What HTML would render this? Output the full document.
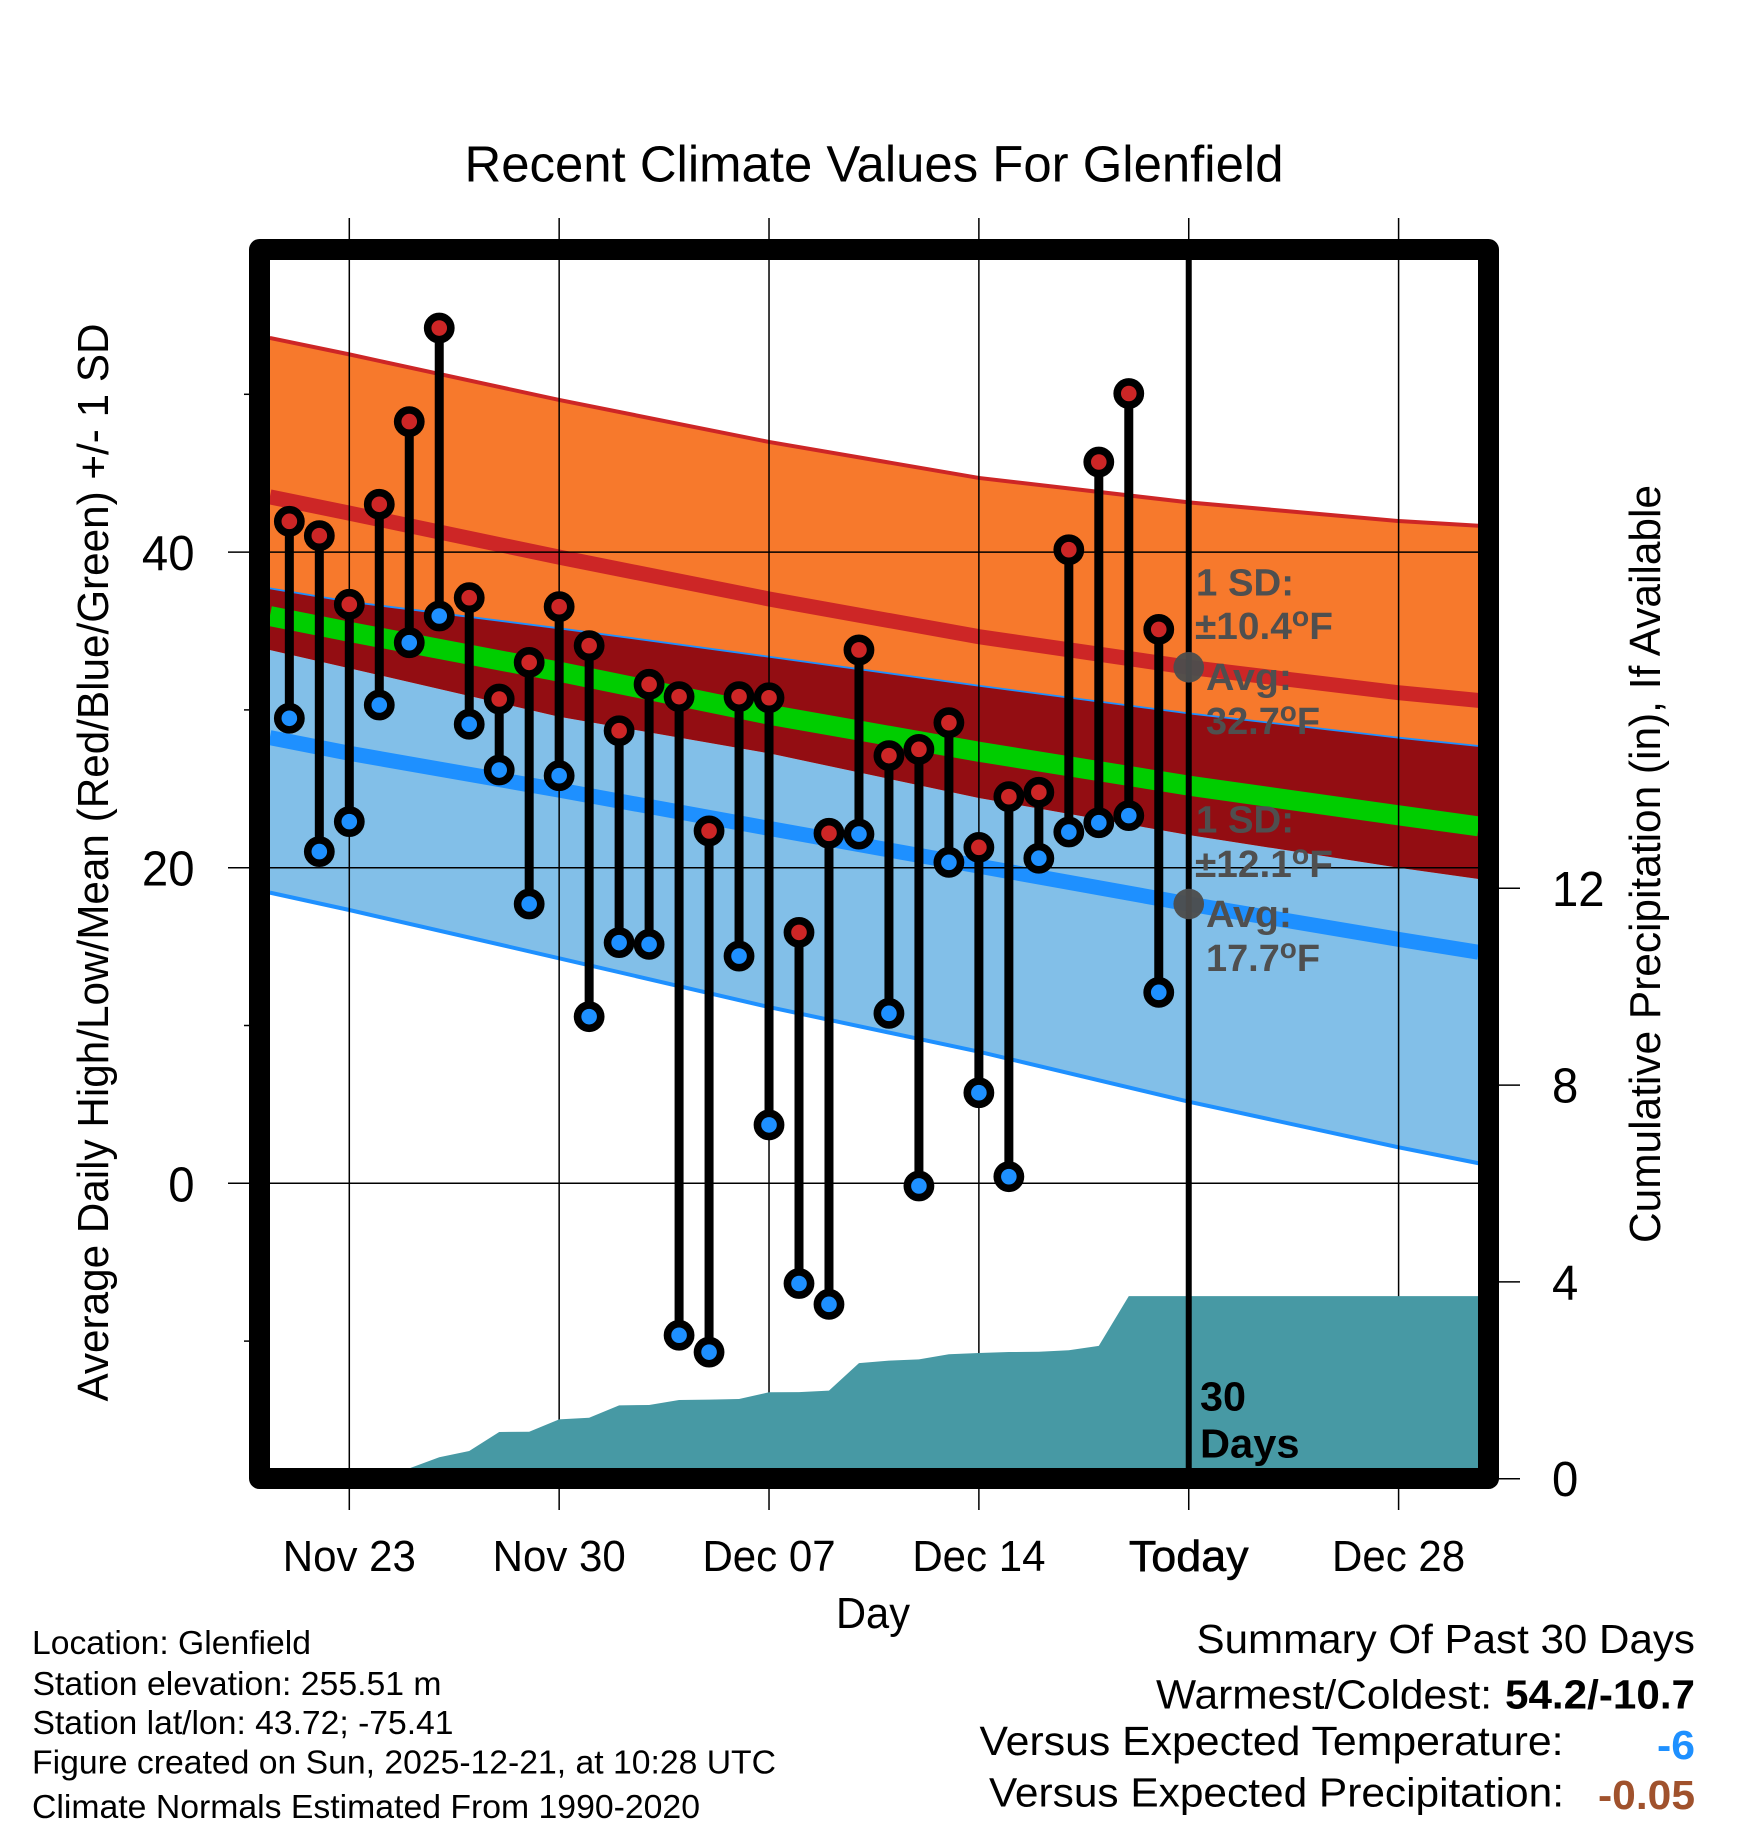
<!DOCTYPE html>
<html lang="en">
<head>
<meta charset="utf-8">
<title>Recent Climate Values For Glenfield</title>
<style>
html,body{margin:0;padding:0;background:#fff;width:1748px;height:1828px;overflow:hidden}
svg{display:block}
text{font-family:"Liberation Sans",sans-serif;fill:#000}
.note{font-weight:bold;font-size:38px;fill:#4f4f4f}
.info{font-size:33px}
.sum{font-size:41px}
</style>
</head>
<body>
<svg id="chart" xmlns="http://www.w3.org/2000/svg" width="1748" height="1828" viewBox="0 0 1748 1828">
  <g id="bands"></g>
  <g id="grid"></g>
  <g id="precip"></g>
  <g id="marks"></g>
  <g id="today"></g>

  <g>
    <text class="note" x="1196" y="595.7" textLength="98" lengthAdjust="spacingAndGlyphs">1 SD:</text>
    <text class="note" x="1195" y="639" textLength="138" lengthAdjust="spacingAndGlyphs">±10.4<tspan dy="-13" font-size="28">o</tspan><tspan dy="13">F</tspan></text>
    <text class="note" x="1206" y="690" textLength="86" lengthAdjust="spacingAndGlyphs">Avg:</text>
    <text class="note" x="1206" y="734" textLength="114" lengthAdjust="spacingAndGlyphs">32.7<tspan dy="-13" font-size="28">o</tspan><tspan dy="13">F</tspan></text>
  </g>
  <g>
    <text class="note" x="1196" y="832.7" textLength="98" lengthAdjust="spacingAndGlyphs">1 SD:</text>
    <text class="note" x="1195" y="877" textLength="138" lengthAdjust="spacingAndGlyphs">±12.1<tspan dy="-13" font-size="28">o</tspan><tspan dy="13">F</tspan></text>
    <text class="note" x="1206" y="927" textLength="86" lengthAdjust="spacingAndGlyphs">Avg:</text>
    <text class="note" x="1206" y="971" textLength="114" lengthAdjust="spacingAndGlyphs">17.7<tspan dy="-13" font-size="28">o</tspan><tspan dy="13">F</tspan></text>
  </g>
  <text x="1200" y="1410.5" font-size="41" font-weight="bold" textLength="46" lengthAdjust="spacingAndGlyphs">30</text>
  <text x="1200" y="1457.7" font-size="41" font-weight="bold" textLength="99.5" lengthAdjust="spacingAndGlyphs">Days</text>

  <rect x="259.5" y="249.5" width="1229" height="1229" fill="none" stroke="#000" stroke-width="21" stroke-linejoin="round"></rect>
  <g id="ticks"></g>

  <text x="464.5" y="181.7" font-size="51" textLength="819" lengthAdjust="spacingAndGlyphs">Recent Climate Values For Glenfield</text>
  <text transform="translate(108,1401.5) rotate(-90)" font-size="44" textLength="1078" lengthAdjust="spacingAndGlyphs">Average Daily High/Low/Mean (Red/Blue/Green) +/- 1 SD</text>
  <text transform="translate(1660,1243) rotate(-90)" font-size="44" textLength="758" lengthAdjust="spacingAndGlyphs">Cumulative Precipitation (in), If Available</text>
  <text x="836" y="1628" font-size="44" textLength="74" lengthAdjust="spacingAndGlyphs">Day</text>

  <g>
    <text class="info" x="32" y="1654" textLength="279" lengthAdjust="spacingAndGlyphs">Location: Glenfield</text>
    <text class="info" x="32.5" y="1695" textLength="409" lengthAdjust="spacingAndGlyphs">Station elevation: 255.51 m</text>
    <text class="info" x="32.5" y="1734" textLength="421" lengthAdjust="spacingAndGlyphs">Station lat/lon: 43.72; -75.41</text>
    <text class="info" x="32" y="1773.3" textLength="744" lengthAdjust="spacingAndGlyphs">Figure created on Sun, 2025-12-21, at 10:28 UTC</text>
    <text class="info" x="32" y="1818" textLength="668" lengthAdjust="spacingAndGlyphs">Climate Normals Estimated From 1990-2020</text>
  </g>

  <g>
    <text class="sum" x="1196.5" y="1653" textLength="498.5" lengthAdjust="spacingAndGlyphs">Summary Of Past 30 Days</text>
    <text class="sum" x="1156" y="1708.7" textLength="336" lengthAdjust="spacingAndGlyphs">Warmest/Coldest:</text>
    <text class="sum" x="1505" y="1708.7" font-weight="bold" textLength="190" lengthAdjust="spacingAndGlyphs">54.2/-10.7</text>
    <text class="sum" x="979.5" y="1754.8" textLength="584" lengthAdjust="spacingAndGlyphs">Versus Expected Temperature:</text>
    <text class="sum" x="1657" y="1759" font-weight="bold" textLength="38" lengthAdjust="spacingAndGlyphs" style="fill:#1e90ff">-6</text>
    <text class="sum" x="989" y="1806.5" textLength="575" lengthAdjust="spacingAndGlyphs">Versus Expected Precipitation:</text>
    <text class="sum" x="1598" y="1809" font-weight="bold" textLength="97" lengthAdjust="spacingAndGlyphs" style="fill:#a0522d">-0.05</text>
  </g>
</svg>

<script>
// ---- data ----
const dayOffsets = [-2,-1,0,1,2,3,4,5,6,7,8,9,10,11,12,13,14,15,16,17,18,19,20,21,22,23,24,25,26,27];
const dailyHigh = [41.95,41.04,36.69,43.03,48.27,54.2,37.11,30.69,33.01,36.54,34.07,28.68,31.62,30.84,22.33,30.84,30.77,15.9,22.18,33.8,27.1,27.5,29.19,21.29,24.5,24.78,40.15,45.71,50.05,35.1];
const dailyLow = [29.47,21.02,22.92,30.31,34.26,35.95,29.09,26.19,17.7,25.83,10.56,15.25,15.14,-9.63,-10.7,14.4,3.7,-6.35,-7.67,22.13,10.77,-0.17,20.34,5.74,0.42,20.6,22.26,22.85,23.3,12.1];
const cumulativePrecip = [0,0,0,0,0.21,0.435,0.563,0.95,0.955,1.207,1.24,1.49,1.498,1.6,1.606,1.62,1.756,1.76,1.79,2.35,2.4,2.425,2.53,2.555,2.575,2.58,2.61,2.7,3.71,3.71];

const normalDays = [-2.65,0,7,14,21,28,35,37.67];
const highPlusSd = [53.57,52.53,49.64,46.98,44.7,43.15,41.97,41.67];
const highMean = [43.5,42.47,39.68,37.03,34.64,32.7,31.09,30.6];
const highMinusSd = [33.8,32.64,29.57,27.25,24.42,22.07,20,19.28];
const lowPlusSd = [37.7,36.86,35.17,33.37,31.53,29.78,28.24,27.71];
const lowMean = [28.24,27.25,24.92,22.49,20.1,17.7,15.46,14.64];
const lowMinusSd = [18.42,17.32,14.26,11.17,8.34,5.17,2.28,1.27];
const overallMean = [35.95,34.95,32.42,29.7,27.35,25.2,23.32,22.62];

const todayOffset = 28;
const todayHighAvg = 32.7;
const todayLowAvg = 17.7;

const xTickDays = [0,7,14,21,28,35];
const xTickLabels = ['Nov 23','Nov 30','Dec 07','Dec 14','Today','Dec 28'];
const tempMajorTicks = [40,20,0];
const tempMajorLabels = ['40','20','0'];
const tempMinorTicks = [50,30,10,-10];
const precipTicks = [0,4,8,12];
const precipLabels = ['0','4','8','12'];

// ---- axis functions ----
function xScale(d){ return 349.3 + 29.98 * d; }
function tempScale(v){ return 1183.3 - 15.78 * v; }
function precipScale(v){ return 1478.7 - 49.2 * v; }

const NS = 'http://www.w3.org/2000/svg';
function make(tag, parent, attrs){
  const el = document.createElementNS(NS, tag);
  for (const k in attrs) el.setAttribute(k, attrs[k]);
  parent.appendChild(el);
  return el;
}
function seriesPoints(xs, ys){
  return xs.map(function(d, i){ return xScale(d).toFixed(2) + ',' + tempScale(ys[i]).toFixed(2); });
}

// ---- climate bands ----
const bands = document.getElementById('bands');
function drawBand(upper, lower, color, name){
  const pts = seriesPoints(normalDays, upper).concat(seriesPoints(normalDays, lower).reverse());
  const el = make('polygon', bands, {points: pts.join(' '), fill: color});
  
  
}
function drawLine(vals, color, width, name){
  const el = make('polyline', bands, {points: seriesPoints(normalDays, vals).join(' '), fill: 'none', stroke: color, 'stroke-width': width});
  
  
}
drawBand(highPlusSd, highMinusSd, '#f7792c', 'high-sd-band');
drawBand(highMinusSd, lowMinusSd, '#82bfe8', 'low-sd-band');
drawBand(lowPlusSd, highMinusSd, '#930d12', 'overlap-band');
drawLine(highPlusSd, '#cd2626', 4, 'high-plus-sd-line');
drawLine(lowPlusSd, '#1e90ff', 1.8, 'low-plus-sd-line');
drawLine(lowMinusSd, '#1e90ff', 4, 'low-minus-sd-line');
drawLine(highMean, '#cd2626', 15, 'high-mean-line');
drawLine(lowMean, '#1e90ff', 15, 'low-mean-line');
drawLine(overallMean, '#00cd00', 20, 'overall-mean-line');

// ---- grid lines ----
const grid = document.getElementById('grid');
xTickDays.forEach(function(d){
  const el = make('line', grid, {x1: xScale(d), x2: xScale(d), y1: 218, y2: 1510, stroke: '#000', 'stroke-width': 1.5});
  
  
});
tempMajorTicks.forEach(function(v){
  const el = make('line', grid, {x1: 228, x2: 1478, y1: tempScale(v), y2: tempScale(v), stroke: '#000', 'stroke-width': 1.5});
  
  
});

// ---- precipitation ----
const precipGroup = document.getElementById('precip');
const precipPts = dayOffsets.map(function(d, i){ return xScale(d).toFixed(2) + ',' + precipScale(cumulativePrecip[i]).toFixed(2); });
const lastPrecip = cumulativePrecip[cumulativePrecip.length - 1];
const endDay = normalDays[normalDays.length - 1];
precipPts.push(xScale(endDay).toFixed(2) + ',' + precipScale(lastPrecip).toFixed(2));
precipPts.push(xScale(endDay).toFixed(2) + ',' + precipScale(0).toFixed(2));
precipPts.push(xScale(dayOffsets[0]).toFixed(2) + ',' + precipScale(0).toFixed(2));
const precipArea = make('polygon', precipGroup, {points: precipPts.join(' '), fill: '#4799a4'});



// ---- daily stems and markers ----
const marks = document.getElementById('marks');
dayOffsets.forEach(function(d, i){
  const cx = xScale(d);
  const stem = make('line', marks, {x1: cx, x2: cx, y1: tempScale(dailyHigh[i]), y2: tempScale(dailyLow[i]), stroke: '#000', 'stroke-width': 9});
  
  
  const hi = make('circle', marks, {cx: cx, cy: tempScale(dailyHigh[i]), r: 11.6, fill: '#cd2626', stroke: '#000', 'stroke-width': 7.6});
  
  
  const lo = make('circle', marks, {cx: cx, cy: tempScale(dailyLow[i]), r: 11.6, fill: '#1e90ff', stroke: '#000', 'stroke-width': 7.6});
  
  
});

// ---- today marker ----
const todayGroup = document.getElementById('today');
const todayLine = make('line', todayGroup, {x1: xScale(todayOffset), x2: xScale(todayOffset), y1: 260, y2: 1470, stroke: '#000', 'stroke-width': 6});


const hiDot = make('circle', todayGroup, {cx: xScale(todayOffset), cy: tempScale(todayHighAvg), r: 15.3, fill: '#4d4d4d', opacity: 0.96});


const loDot = make('circle', todayGroup, {cx: xScale(todayOffset), cy: tempScale(todayLowAvg), r: 15.3, fill: '#4d4d4d', opacity: 0.96});



// ---- ticks and tick labels ----
const ticks = document.getElementById('ticks');
xTickDays.forEach(function(d, i){
  const isToday = d === todayOffset;
  const t = make('text', ticks, {transform: 'translate(' + xScale(d) + ',1571) scale(' + (isToday ? 1.02 : 0.955) + ',1)', 'text-anchor': 'middle', 'font-size': 44, stroke: isToday ? '#000' : 'none', 'stroke-width': 0.6});
  t.textContent = xTickLabels[i];
  
  
});
tempMajorTicks.forEach(function(v, i){
  const t = make('text', ticks, {transform: 'translate(194.5,' + (tempScale(v) + 18) + ') scale(0.965,1)', 'text-anchor': 'end', 'font-size': 49});
  t.textContent = tempMajorLabels[i];
  
  
});
tempMinorTicks.forEach(function(v){
  const l = make('line', ticks, {x1: 244, x2: 250, y1: tempScale(v), y2: tempScale(v), stroke: '#000', 'stroke-width': 1.5});
  
  
});
precipTicks.forEach(function(v, i){
  const l = make('line', ticks, {x1: 1498, x2: 1520, y1: precipScale(v), y2: precipScale(v), stroke: '#000', 'stroke-width': 1.5});
  
  
  const t = make('text', ticks, {transform: 'translate(1552,' + (precipScale(v) + 17.5) + ') scale(0.965,1)', 'font-size': 49});
  t.textContent = precipLabels[i];
  
  
});
</script>
</body>
</html>
